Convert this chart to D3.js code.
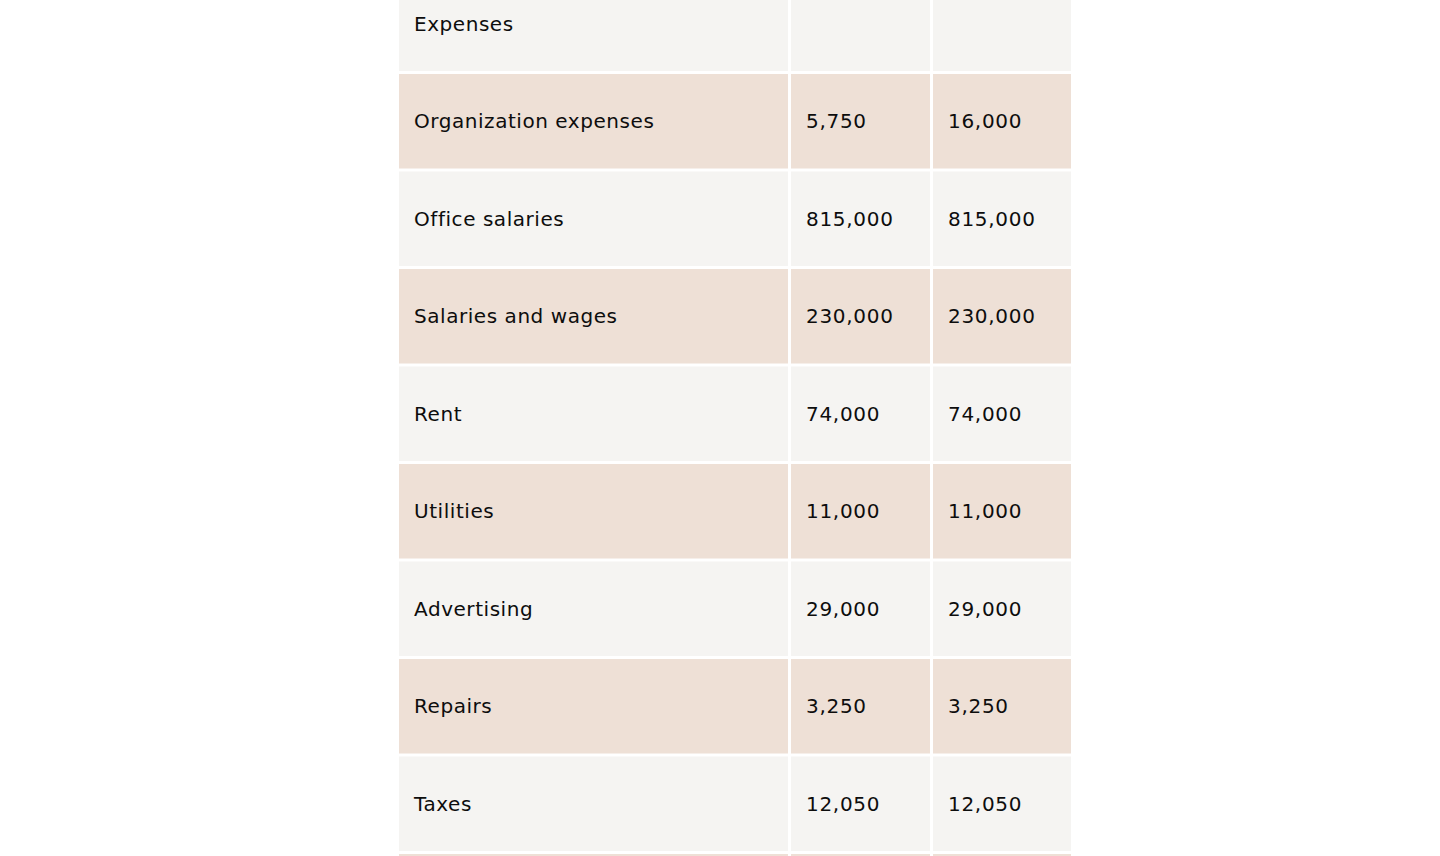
<!DOCTYPE html>
<html>
<head>
<meta charset="utf-8">
<script src="https://cdn.jsdelivr.net/npm/d3@7"></script>
<style>
  html, body { margin: 0; padding: 0; background: #ffffff; overflow: hidden; }
  svg { display: block; }
</style>
</head>
<body>
<svg id="chart" width="1440" height="856"></svg>
<script>
// ---- data ----
const categories = ["Expenses", "Organization expenses", "Office salaries", "Salaries and wages",
                    "Rent", "Utilities", "Advertising", "Repairs", "Taxes", ""];
const valuesA = [null, 5750, 815000, 230000, 74000, 11000, 29000, 3250, 12050, null];
const valuesB = [null, 16000, 815000, 230000, 74000, 11000, 29000, 3250, 12050, null];

// ---- layout / style ----
const W = 1440, H = 856;
const colRel = [392, 142, 141];          // relative column widths
const tableLeft = 397.5, tableRight = 1072.5;
const firstRowTop = -25, rowPitch = 97.5;
const lineW = 3;
const fills = ["#f5f4f2", "#eee0d6"];
const textColor = "#0d0d0d";
const padX = 15;

const svg = d3.select("#chart");

// column scale: cumulative relative widths -> pixels
const cum = [0];
colRel.forEach((w, i) => cum.push(cum[i] + w));
const x = d3.scaleLinear().domain([0, cum[cum.length - 1]]).range([tableLeft, tableRight]);

// row scale
const nRows = categories.length;
const y = d3.scaleLinear().domain([0, nRows]).range([firstRowTop, firstRowTop + nRows * rowPitch]);

const fmt = d3.format(",");
const columns = [
  categories.map(d => d),
  valuesA.map(v => v == null ? "" : fmt(v)),
  valuesB.map(v => v == null ? "" : fmt(v))
];

const cells = [];
columns.forEach((col, c) => {
  col.forEach((txt, r) => cells.push({ c, r, txt }));
});

const g = svg.append("g");

g.selectAll("rect.cell")
  .data(cells)
  .join("rect")
  .attr("class", "cell")
  .attr("x", d => x(cum[d.c]) + lineW / 2)
  .attr("y", d => y(d.r) + lineW / 2)
  .attr("width", d => x(cum[d.c + 1]) - x(cum[d.c]) - lineW)
  .attr("height", d => y(d.r + 1) - y(d.r) - lineW)
  .attr("fill", d => fills[d.r % 2]);

g.selectAll("text.cell-text")
  .data(cells.filter(d => d.txt !== ""))
  .join("text")
  .attr("class", "cell-text")
  .attr("x", d => x(cum[d.c]) + lineW / 2 + padX)
  .attr("y", d => (y(d.r) + y(d.r + 1)) / 2)
  .attr("dy", "0.36em")
  .attr("font-family", "'DejaVu Sans', Verdana, sans-serif")
  .attr("font-size", 20)
  .attr("letter-spacing", d => d.c === 0 ? 0.55 : 0.7)
  .attr("fill", textColor)
  .text(d => d.txt);
</script>
</body>
</html>
